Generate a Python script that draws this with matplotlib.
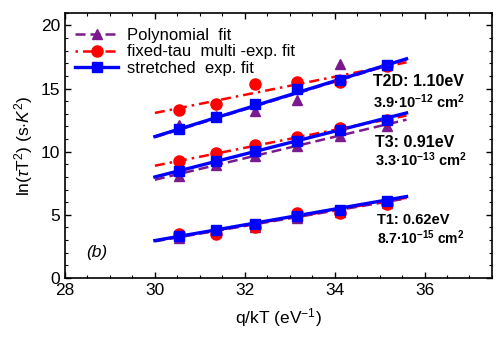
import matplotlib
matplotlib.use("Agg")
import matplotlib.pyplot as plt
from matplotlib.ticker import MultipleLocator

plt.rcParams['font.family'] = ['Liberation Sans', 'DejaVu Sans']
plt.rcParams['mathtext.fontset'] = 'custom'
plt.rcParams['mathtext.rm'] = 'Liberation Sans'
plt.rcParams['mathtext.it'] = 'Liberation Sans:italic'
plt.rcParams['mathtext.bf'] = 'Liberation Sans:bold'

# data: q/kT values
x_pts = [30.54, 31.36, 32.23, 33.16, 34.13, 35.17]

# T2D
t2d_poly = [12.1, 12.8, 13.2, 14.07, 16.95, 16.85]
t2d_fixed = [13.33, 13.8, 15.37, 15.5, 15.55, 16.8]
t2d_str = [11.8, 12.75, 13.8, 14.98, 15.68, 16.83]
# T3
t3_poly = [8.04, 8.97, 9.63, 10.42, 11.21, 12.0]
t3_fixed = [9.23, 9.9, 10.5, 11.17, 11.88, 12.49]
t3_str = [8.49, 9.29, 10.08, 10.82, 11.69, 12.54]
# T1
t1_poly = [3.2, 3.6, 4.05, 4.75, 5.25, 5.9]
t1_fixed = [3.5, 3.49, 4.07, 5.13, 5.13, 5.85]
t1_str = [3.36, 3.81, 4.29, 4.87, 5.4, 6.11]

# fit line endpoints at x = 30 and x = 35.6
x_fit = [30.0, 35.6]
t2d_poly_fit = [11.15, 17.3]
t2d_fixed_fit = [13.07, 17.08]
t2d_str_fit = [11.2, 17.36]
t3_poly_fit = [7.78, 12.54]
t3_fixed_fit = [8.89, 12.86]
t3_str_fit = [8.0, 13.07]
t1_poly_fit = [2.9, 6.3]
t1_fixed_fit = [2.95, 6.35]
t1_str_fit = [2.96, 6.45]

labels = ["Polynomial  fit", "fixed-tau  multi -exp. fit", "stretched  exp. fit"]

purple = '#7B1A8C'
red = '#FF0000'
blue = '#0000FF'

fig = plt.figure(figsize=(5.04, 3.47), dpi=100)
ax = fig.add_axes([0.129, 0.199, 0.847, 0.764])

groups = [
    (t2d_poly, t2d_fixed, t2d_str, t2d_poly_fit, t2d_fixed_fit, t2d_str_fit),
    (t3_poly, t3_fixed, t3_str, t3_poly_fit, t3_fixed_fit, t3_str_fit),
    (t1_poly, t1_fixed, t1_str, t1_poly_fit, t1_fixed_fit, t1_str_fit),
]
for i, (p, f, s, pf, ff, sf) in enumerate(groups):
    ax.plot(x_fit, pf, color=purple, ls=(0, (4, 2)), lw=1.8, zorder=2)
    ax.plot(x_fit, ff, color=red, ls=(0, (4, 2, 1, 2)), lw=1.8, zorder=2)
    ax.plot(x_fit, sf, color=blue, ls='-', lw=2.4, zorder=3)
    ax.plot(x_pts, p, ls='none', marker='^', color=purple, ms=7, zorder=4)
    ax.plot(x_pts, f, ls='none', marker='o', color=red, ms=8, zorder=4)
    ax.plot(x_pts, s, ls='none', marker='s', color=blue, ms=6.5, zorder=5)

# legend proxies
h1, = ax.plot([], [], color=purple, ls=(0, (4, 2)), lw=1.8, marker='^', ms=7)
h2, = ax.plot([], [], color=red, ls=(0, (1, 2, 4, 2)), lw=1.8, marker='o', ms=8)
h3, = ax.plot([], [], color=blue, ls='-', lw=2.4, marker='s', ms=6.5)
ax.legend([h1, h2, h3], labels, loc='upper left', frameon=False, fontsize=12,
          handlelength=2.6, handletextpad=0.5, labelspacing=0.08,
          borderaxespad=0.2, bbox_to_anchor=(0.0, 0.98))

ax.set_xlim(28, 37.5)
ax.set_ylim(0, 21)
ax.xaxis.set_major_locator(MultipleLocator(2))
ax.xaxis.set_minor_locator(MultipleLocator(0.5))
ax.yaxis.set_major_locator(MultipleLocator(5))
ax.yaxis.set_minor_locator(MultipleLocator(1))
ax.tick_params(which='both', direction='in', top=True, right=True, labelsize=12.5)
ax.tick_params(which='major', length=4, width=1)
ax.tick_params(which='minor', length=2.5, width=0.8)
for sp in ax.spines.values():
    sp.set_linewidth(1.2)

ax.set_xlabel('q/kT (eV$^{-1}$)', fontsize=12.5, labelpad=6)
ax.set_ylabel(r'ln($\tau$T$^2$) (s$\cdot$$K^2$)', fontsize=12.5, labelpad=4)

kw = dict(fontweight='bold', va='center', ha='left')
ax.text(34.85, 15.6, 'T2D: 1.10eV', fontsize=11.5, **kw)
ax.text(34.85, 14.0, r'3.9·10$^{\mathbf{-12}}$ cm$^{\mathbf{2}}$', fontsize=10.5, **kw)
ax.text(34.9, 10.7, 'T3: 0.91eV', fontsize=11.5, **kw)
ax.text(34.9, 9.35, r'3.3·10$^{\mathbf{-13}}$ cm$^{\mathbf{2}}$', fontsize=10.5, **kw)
ax.text(34.95, 4.6, 'T1: 0.62eV', fontsize=10.5, **kw)
ax.text(34.95, 3.2, r'8.7·10$^{\mathbf{-15}}$ cm$^{\mathbf{2}}$', fontsize=10, **kw)
ax.text(28.7, 2.0, '(b)', fontsize=12.5, style='italic', va='center', ha='center')

fig.savefig('out.png', dpi=100)
